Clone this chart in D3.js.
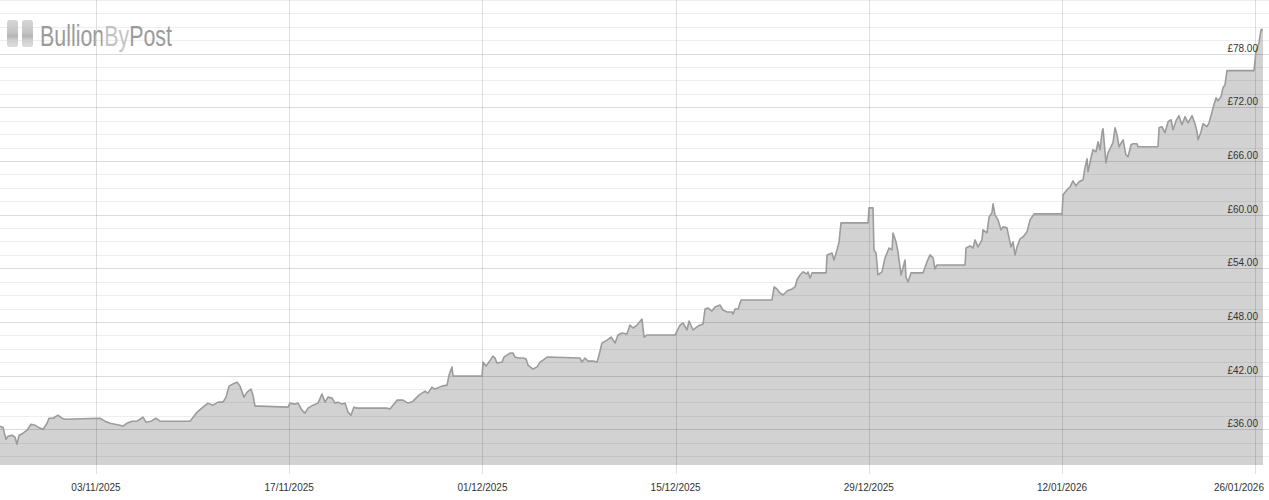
<!DOCTYPE html>
<html>
<head>
<meta charset="utf-8">
<script src="https://cdn.jsdelivr.net/npm/d3@7"></script>
<style>
  html, body { margin: 0; padding: 0; background: #fff; }
  svg { display: block; }
  text { font-family: "Liberation Sans", Arial, sans-serif; }
</style>
</head>
<body>
<svg id="chart" width="1269" height="500"></svg>
<script>
// ---- DATA ----
// start of series (UTC), offsets in days from this instant
const seriesStart = Date.UTC(2025, 9, 27, 1, 0);
const dayOffsets = [
  0, 0.22, 0.43, 0.58, 0.87, 1.09, 1.23, 1.38, 1.67, 1.96, 2.25, 2.54, 2.75, 3.12, 3.41, 3.55, 3.84, 4.20, 4.49, 4.71,
  7.25, 7.61, 7.97, 8.33, 8.70, 8.91, 9.20, 9.57, 9.93, 10.14, 10.36, 10.58, 10.94, 11.30, 11.59,
  13.77, 14.28, 14.71, 15.07, 15.43, 15.80, 16.16, 16.38, 16.59, 16.88, 17.17, 17.39, 17.68, 17.90, 18.19, 18.33, 18.48, 18.84,
  20.87, 21.01, 21.38, 21.59, 21.88, 22.10, 22.32, 22.68, 23.04, 23.33, 23.55, 23.77, 24.06, 24.28, 24.49, 24.78, 25.00, 25.22, 25.43, 25.65, 25.87,
  28.04, 28.26, 28.77, 29.20, 29.57, 29.93, 30.36, 30.80, 31.01, 31.30, 31.52, 32.03, 32.39, 32.54, 32.75, 32.83,
  34.93, 35.00, 35.22, 35.43, 35.72, 35.87, 36.01, 36.38, 36.52, 36.74, 36.96, 37.17, 37.32, 37.54, 37.90, 38.12, 38.26, 38.62, 38.91, 39.13, 39.35, 39.64,
  42.03, 42.17, 42.39, 42.61, 42.97, 43.26, 43.41, 43.62, 43.99, 44.28, 44.57, 44.78, 45.07, 45.43, 45.65, 45.87, 46.16, 46.52, 46.67, 46.88,
  48.91, 49.28, 49.49, 49.78, 49.93, 50.22, 50.58, 50.94, 51.09, 51.30, 51.59, 51.81, 52.17, 52.39, 52.68, 53.04, 53.12, 53.26, 53.48, 53.70,
  55.94, 56.09, 56.30, 56.52, 56.74, 57.03, 57.39, 57.61, 57.75, 57.97, 58.19, 58.48, 58.55, 58.70, 58.84,
  59.86, 59.93, 60.29, 60.43, 60.65, 60.80, 60.94,
  62.90, 62.97, 63.26, 63.33, 63.48, 63.62, 63.91, 64.13, 64.28, 64.42, 64.64, 64.71, 64.93, 65.07, 65.29, 65.43, 65.58, 65.65, 65.80, 66.01,
  66.88, 67.17, 67.39, 67.61, 67.75, 67.90,
  69.93, 70.00, 70.29, 70.51, 70.65, 70.87, 71.16, 71.23, 71.52, 71.67, 71.88, 71.96, 72.10, 72.32, 72.54, 72.68, 72.97, 73.04, 73.26, 73.41, 73.55, 73.70, 73.91, 74.13, 74.42, 74.64, 74.93,
  76.96, 77.03, 77.32, 77.54, 77.75, 77.97, 78.19, 78.48, 78.62, 78.77, 78.84, 79.06, 79.20, 79.42, 79.57, 79.71, 79.86, 79.93, 80.14, 80.29, 80.51, 80.65, 80.80, 80.94, 81.09, 81.30, 81.38, 81.59, 81.74, 81.96, 82.10, 82.39, 82.46,
  83.91, 83.99, 84.20, 84.42, 84.64, 84.86, 85.00, 85.22, 85.43, 85.65, 85.87, 86.09, 86.38, 86.59, 86.74, 86.81, 87.03, 87.17, 87.46, 87.61, 87.83, 87.90, 88.12, 88.26, 88.48, 88.62, 88.77, 88.91,
  90.87, 91.01, 91.09, 91.23, 91.38, 91.52
];
const prices = [
  36.34, 36.19, 34.88, 35.22, 35.33, 35.11, 34.32, 35.33, 35.56, 35.89, 36.56, 36.45, 36.23, 36.00, 36.67, 37.23, 37.23, 37.57, 37.23, 37.12,
  37.23, 36.90, 36.67, 36.56, 36.45, 36.34, 36.67, 36.90, 36.90, 37.12, 37.35, 36.79, 36.90, 37.23, 36.90,
  36.90, 37.91, 38.47, 38.92, 38.69, 39.03, 39.03, 39.59, 40.82, 41.05, 41.27, 40.82, 39.59, 40.15, 40.49, 39.81, 38.58, 38.58,
  38.47, 38.92, 38.81, 38.92, 38.13, 37.80, 38.36, 38.69, 38.92, 39.93, 39.03, 39.59, 39.48, 38.92, 39.03, 38.81, 38.92, 37.91, 37.57, 38.47, 38.36,
  38.36, 38.25, 39.25, 39.25, 38.92, 39.14, 39.81, 40.26, 40.04, 40.71, 40.49, 40.82, 40.93, 42.05, 42.95, 41.94,
  41.94, 43.51, 43.06, 43.51, 44.18, 43.96, 43.40, 43.51, 44.07, 44.29, 44.52, 44.52, 44.07, 43.96, 43.96, 43.85, 43.17, 42.73, 42.95, 43.51, 43.73, 44.07,
  43.96, 43.51, 43.96, 43.62, 43.62, 43.51, 44.29, 45.64, 45.97, 46.31, 45.64, 46.53, 46.76, 46.65, 47.65, 47.32, 47.65, 48.32, 46.31, 46.53,
  46.53, 47.65, 47.88, 47.10, 48.10, 47.10, 47.54, 47.76, 49.44, 49.56, 49.22, 49.67, 49.89, 49.33, 49.11, 49.11, 48.88, 49.44, 49.44, 50.45,
  50.45, 51.91, 51.68, 51.24, 51.01, 51.46, 51.68, 51.91, 52.69, 53.25, 53.59, 53.36, 53.59, 52.92, 53.48,
  53.48, 55.49, 55.72, 54.93, 56.05, 56.95, 59.08,
  59.08, 60.75, 60.75, 56.05, 55.72, 53.25, 53.59, 55.16, 55.72, 56.27, 56.05, 57.95, 56.95, 55.83, 53.25, 54.04, 54.93, 53.03, 52.47, 53.48,
  53.48, 54.71, 55.49, 55.16, 53.92, 54.37,
  54.37, 56.27, 56.50, 56.27, 57.17, 56.39, 57.17, 58.29, 57.96, 59.75, 60.20, 61.20, 59.97, 59.41, 58.29, 58.63, 58.52, 57.96, 56.39, 56.95, 55.49, 56.39, 57.28, 57.51, 58.07, 59.41, 60.08,
  60.08, 62.21, 62.77, 63.11, 63.78, 63.22, 63.67, 63.89, 65.24, 66.24, 64.79, 66.36, 67.25, 67.03, 68.15, 67.25, 69.27, 69.60, 65.79, 66.92, 67.59, 68.04, 69.72, 68.93, 67.59, 68.15, 68.37, 66.69, 66.47, 67.81, 67.92, 67.92, 67.59,
  67.59, 69.72, 69.83, 69.15, 70.39, 70.61, 69.49, 70.50, 71.06, 70.05, 70.95, 70.27, 71.06, 70.16, 69.27, 68.37, 69.27, 70.16, 69.83, 70.27, 71.51, 71.95, 73.07, 72.74, 73.19, 74.19, 74.53, 76.10,
  76.10, 78.23, 78.56, 79.23, 80.69, 80.69
];
const xTickDates = ["2025-11-03", "2025-11-17", "2025-12-01", "2025-12-15", "2025-12-29", "2026-01-12", "2026-01-26"];
const xTickLabels = ["03/11/2025", "17/11/2025", "01/12/2025", "15/12/2025", "29/12/2025", "12/01/2026", "26/01/2026"];
const yMajorTicks = [36, 42, 48, 54, 60, 66, 72, 78];
const yTickLabels = ["£36.00", "£42.00", "£48.00", "£54.00", "£60.00", "£66.00", "£72.00", "£78.00"];
const yDomain = [32, 84];

// ---- CHART ----
const W = 1269, H = 500;
const plotRight = 1263, plotBottom = 465;
const svg = d3.select("#chart");

const data = dayOffsets.map((d, i) => ({ t: new Date(seriesStart + d * 864e5), v: prices[i] }));

const x = d3.scaleUtc().domain(d3.extent(data, d => d.t)).range([0, plotRight]);
const y = d3.scaleLinear().domain(yDomain).range([plotBottom, 0]);

const defs = svg.append("defs");
const g1 = defs.append("linearGradient").attr("id", "barGrad").attr("x1", 0).attr("y1", 0).attr("x2", 0).attr("y2", 1);
g1.append("stop").attr("offset", "0%").attr("stop-color", "#d6d6d6");
g1.append("stop").attr("offset", "45%").attr("stop-color", "#c4c4c4");
g1.append("stop").attr("offset", "60%").attr("stop-color", "#b4b4b4");
g1.append("stop").attr("offset", "75%").attr("stop-color", "#d0d0d0");
g1.append("stop").attr("offset", "100%").attr("stop-color", "#dcdcdc");
// logo text colouring: "Bullion" grey, "By" lighter, "Post" grey
const g2 = defs.append("linearGradient").attr("id", "logoGrad").attr("gradientUnits", "userSpaceOnUse")
  .attr("x1", 40).attr("y1", 0).attr("x2", 172).attr("y2", 0);
[[0, "#9b9b9b"], [0.47, "#9b9b9b"], [0.47, "#c3c3c3"], [0.68, "#c3c3c3"], [0.68, "#9b9b9b"], [1, "#9b9b9b"]]
  .forEach(([o, c]) => g2.append("stop").attr("offset", o).attr("stop-color", c));

// Area
const area = d3.area().x(d => x(d.t)).y0(y(yDomain[0])).y1(d => y(d.v));
svg.append("path").datum(data).attr("d", area).attr("fill", "#d2d2d2");

// Gridlines (drawn over fill, semi-transparent)
const minorTicks = d3.range(33, 84.01, 1.5).filter(v => !yMajorTicks.includes(v));
svg.append("g").selectAll("line").data(minorTicks).join("line")
  .attr("x1", 0).attr("x2", W)
  .attr("y1", d => Math.round(y(d)) + 0.5).attr("y2", d => Math.round(y(d)) + 0.5)
  .attr("stroke", "rgba(0,0,0,0.065)").attr("stroke-width", 1);
svg.append("g").selectAll("line").data(yMajorTicks).join("line")
  .attr("x1", 0).attr("x2", W)
  .attr("y1", d => Math.round(y(d)) + 0.5).attr("y2", d => Math.round(y(d)) + 0.5)
  .attr("stroke", "rgba(0,0,0,0.14)").attr("stroke-width", 1);
const xTicks = xTickDates.map(s => new Date(s + "T00:00:00Z"));
svg.append("g").selectAll("line").data(xTicks).join("line")
  .attr("x1", d => Math.round(x(d)) + 0.5).attr("x2", d => Math.round(x(d)) + 0.5)
  .attr("y1", 0).attr("y2", 474)
  .attr("stroke", "rgba(0,0,0,0.12)").attr("stroke-width", 1);

// Line
const line = d3.line().x(d => x(d.t)).y(d => y(d.v));
svg.append("path").datum(data).attr("d", line)
  .attr("fill", "none").attr("stroke", "#9c9c9c").attr("stroke-width", 1.6).attr("stroke-linejoin", "round");

// Y labels
svg.append("g").selectAll("text").data(yMajorTicks).join("text")
  .attr("x", 1258).attr("y", d => y(d) - 2)
  .attr("text-anchor", "end").attr("font-size", 10).attr("fill", "#333")
  .text((d, i) => yTickLabels[i]);

// X labels
svg.append("g").selectAll("text").data(xTicks).join("text")
  .attr("x", (d, i) => i === xTicks.length - 1 ? 1264 : x(d))
  .attr("y", 491)
  .attr("text-anchor", (d, i) => i === xTicks.length - 1 ? "end" : "middle")
  .attr("font-size", 10).attr("fill", "#333")
  .text((d, i) => xTickLabels[i]);

// Logo
const logo = svg.append("g");
logo.append("rect").attr("x", 7).attr("y", 20).attr("width", 11).attr("height", 27).attr("rx", 2.5).attr("fill", "url(#barGrad)");
logo.append("rect").attr("x", 22).attr("y", 20).attr("width", 11).attr("height", 27).attr("rx", 2.5).attr("fill", "url(#barGrad)");
logo.append("text").attr("x", 40).attr("y", 46)
  .attr("font-family", '"Liberation Sans Narrow", "DejaVu Sans Condensed", "Liberation Sans", sans-serif')
  .attr("font-size", 29)
  .attr("textLength", 132).attr("lengthAdjust", "spacingAndGlyphs")
  .attr("fill", "url(#logoGrad)")
  .text("BullionByPost");
</script>
</body>
</html>
